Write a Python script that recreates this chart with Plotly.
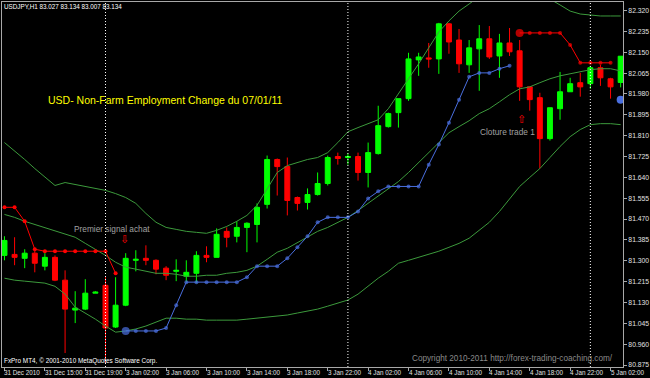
import plotly.graph_objects as go

# ---------------- data ----------------
bar_index = list(range(-10, 52))  # H1 bars; 0 = 3 Jan 00:00

open_ = [81.322, 81.326, 81.310, 81.331, 81.278, 81.314, 81.221, 81.099, 81.103, 81.168,
         81.200, 81.030, 81.119, 81.302, 81.310, 81.302, 81.270, 81.257, 81.237, 81.249,
         81.322, 81.314, 81.420, 81.400, 81.436, 81.448, 81.530, 81.713, 81.684, 81.558,
         81.538, 81.570, 81.615, 81.725, 81.721, 81.725, 81.660, 81.737, 81.847, 81.904,
         81.961, 82.119, 82.127, 82.123, 82.266, 82.200, 82.099, 82.164, 82.205, 82.135,
         82.188, 82.156, 82.009, 81.965, 81.798, 81.920, 81.989, 82.026, 82.022, 82.087,
         82.042, 82.027]
high_ = [81.400, 81.396, 81.347, 81.343, 81.331, 81.322, 81.261, 81.176, 81.225, 81.176,
         81.233, 81.233, 81.331, 81.343, 81.363, 81.306, 81.278, 81.306, 81.302, 81.339,
         81.359, 81.432, 81.436, 81.461, 81.457, 81.534, 81.729, 81.717, 81.721, 81.562,
         81.595, 81.660, 81.729, 81.741, 81.737, 81.741, 81.782, 81.932, 81.904, 81.961,
         82.148, 82.148, 82.188, 82.270, 82.270, 82.245, 82.200, 82.261, 82.257, 82.225,
         82.249, 82.200, 82.009, 81.985, 81.924, 82.070, 82.046, 82.066, 82.095, 82.099,
         82.046, 82.134]
low_ = [81.302, 81.282, 81.270, 81.253, 81.261, 81.217, 80.924, 81.046, 81.099, 81.168,
        80.880, 81.026, 81.115, 81.257, 81.282, 81.245, 81.221, 81.217, 81.213, 81.209,
        81.294, 81.314, 81.355, 81.375, 81.335, 81.375, 81.513, 81.566, 81.485, 81.505,
        81.509, 81.566, 81.607, 81.692, 81.692, 81.627, 81.599, 81.733, 81.843, 81.843,
        81.952, 82.054, 82.087, 82.062, 82.144, 82.066, 82.066, 81.993, 82.123, 82.046,
        82.135, 81.952, 81.912, 81.676, 81.790, 81.875, 81.989, 81.969, 82.001, 82.013,
        81.961, 82.007]
close_ = [81.383, 81.314, 81.331, 81.290, 81.314, 81.221, 81.103, 81.107, 81.168, 81.172,
          81.026, 81.119, 81.310, 81.306, 81.302, 81.266, 81.241, 81.261, 81.253, 81.322,
          81.314, 81.408, 81.396, 81.436, 81.453, 81.518, 81.713, 81.684, 81.546, 81.534,
          81.570, 81.615, 81.721, 81.717, 81.725, 81.660, 81.741, 81.851, 81.900, 81.961,
          82.123, 82.131, 82.123, 82.266, 82.192, 82.103, 82.168, 82.205, 82.131, 82.188,
          82.152, 82.009, 81.957, 81.798, 81.924, 81.989, 82.022, 82.009, 82.087, 82.046,
          82.009, 82.134]

band_upper = [81.782, 81.749, 81.713, 81.676, 81.640, 81.607, 81.619, 81.611, 81.603, 81.595,
              81.587, 81.574, 81.558, 81.534, 81.493, 81.457, 81.436, 81.428, 81.420, 81.416,
              81.412, 81.424, 81.440, 81.461, 81.485, 81.526, 81.595, 81.660, 81.688, 81.700,
              81.713, 81.721, 81.741, 81.782, 81.826, 81.843, 81.859, 81.875, 81.920, 81.981,
              82.038, 82.103, 82.168, 82.233, 82.278, 82.318, 82.347, 82.379, 82.408, 82.420,
              82.420, 82.416, 82.400, 82.383, 82.367, 82.343, 82.318, 82.306, 82.302, 82.298,
              82.298, 82.298]
band_middle = [81.489, 81.477, 81.461, 81.448, 81.436, 81.424, 81.412, 81.396, 81.371, 81.347,
               81.322, 81.294, 81.274, 81.266, 81.257, 81.249, 81.249, 81.245, 81.237, 81.237,
               81.241, 81.241, 81.249, 81.253, 81.261, 81.278, 81.306, 81.335, 81.351, 81.375,
               81.396, 81.420, 81.436, 81.457, 81.477, 81.505, 81.534, 81.562, 81.591, 81.623,
               81.660, 81.700, 81.741, 81.782, 81.822, 81.847, 81.871, 81.900, 81.920, 81.948,
               81.977, 82.001, 82.009, 82.026, 82.042, 82.054, 82.062, 82.070, 82.079, 82.083,
               82.083, 82.074]
band_lower = [81.229, 81.221, 81.217, 81.213, 81.209, 81.196, 81.164, 81.111, 81.087, 81.062,
              81.034, 81.009, 81.014, 81.022, 81.034, 81.050, 81.066, 81.066, 81.062, 81.062,
              81.058, 81.058, 81.058, 81.058, 81.062, 81.066, 81.070, 81.075, 81.079, 81.087,
              81.095, 81.103, 81.115, 81.127, 81.140, 81.164, 81.196, 81.229, 81.257, 81.290,
              81.302, 81.314, 81.326, 81.339, 81.355, 81.371, 81.392, 81.424, 81.457, 81.501,
              81.550, 81.603, 81.640, 81.676, 81.721, 81.766, 81.806, 81.835, 81.855, 81.859,
              81.859, 81.855]

red_left_x = list(range(-10, 2))
red_left_y = [81.518, 81.518, 81.461, 81.347, 81.339, 81.339, 81.339, 81.339, 81.339, 81.339,
              81.339, 81.249]
red_right_x = list(range(41, 51))
red_right_y = [82.229, 82.229, 82.229, 82.229, 82.229, 82.180, 82.107, 82.107, 82.107, 82.107]

blue_x = list(range(2, 41))
blue_y = [81.014, 81.014, 81.014, 81.014, 81.026, 81.119, 81.213, 81.213, 81.213, 81.213,
          81.213, 81.213, 81.233, 81.278, 81.278, 81.278, 81.310, 81.355, 81.400, 81.457,
          81.477, 81.477, 81.477, 81.501, 81.554, 81.583, 81.603, 81.603, 81.603, 81.603,
          81.692, 81.774, 81.863, 81.957, 82.050, 82.066, 82.066, 82.083, 82.095]
blue2_x = [51]
blue2_y = [81.957]

day_separators = [0, 24, 48]

x_label_pos = [-10, -6, -2, 2, 6, 10, 14, 18, 22, 26, 30, 34, 38, 42, 46, 50]
x_label_text = ["31 Dec 2010", "31 Dec 15:00", "31 Dec 19:00", "3 Jan 02:00", "3 Jan 06:00",
                "3 Jan 10:00", "3 Jan 14:00", "3 Jan 18:00", "3 Jan 22:00", "4 Jan 02:00",
                "4 Jan 06:00", "4 Jan 10:00", "4 Jan 14:00", "4 Jan 18:00", "4 Jan 22:00",
                "5 Jan 02:00"]
y_ticks = [80.875, 80.960, 81.045, 81.130, 81.215, 81.300, 81.385, 81.470, 81.555, 81.640,
           81.725, 81.810, 81.895, 81.980, 82.065, 82.150, 82.235, 82.320]
y_tick_text = ["80.875", "80.960", "81.045", "81.130", "81.215", "81.300", "81.385", "81.470",
               "81.555", "81.640", "81.725", "81.810", "81.895", "81.980", "82.065", "82.150",
               "82.235", "82.320"]

# ---------------- figure ----------------
BAND = "#3c9a3c"
AXIS = "#a8a8a8"
BLUE = "#4a6fe0"
FONT = "Liberation Sans"

fig = go.Figure()
for band in (band_upper, band_middle, band_lower):
    fig.add_trace(go.Scatter(x=bar_index, y=band, mode="lines",
                             line=dict(color=BAND, width=1), hoverinfo="skip"))

fig.add_trace(go.Candlestick(
    x=bar_index, open=open_, high=high_, low=low_, close=close_,
    increasing=dict(line=dict(color="#00ff00", width=1), fillcolor="#00ff00"),
    decreasing=dict(line=dict(color="#ff0000", width=1), fillcolor="#ff0000"),
    whiskerwidth=0, hoverinfo="skip"))

fig.add_trace(go.Scatter(x=red_left_x, y=red_left_y, mode="lines+markers",
                         line=dict(color="#ff0000", width=1),
                         marker=dict(color="#ff0000", size=4, line=dict(width=0)),
                         hoverinfo="skip"))
fig.add_trace(go.Scatter(x=red_right_x, y=red_right_y, mode="lines+markers",
                         line=dict(color="#ff0000", width=1),
                         marker=dict(color="#ff0000", size=[8] + [4] * (len(red_right_x) - 1),
                                     line=dict(width=0)),
                         hoverinfo="skip"))
fig.add_trace(go.Scatter(x=blue_x, y=blue_y, mode="lines+markers",
                         line=dict(color=BLUE, width=1),
                         marker=dict(color=BLUE, size=[8] + [4] * (len(blue_x) - 1),
                                     line=dict(width=0)),
                         hoverinfo="skip"))
fig.add_trace(go.Scatter(x=blue2_x, y=blue2_y, mode="markers",
                         marker=dict(color=BLUE, size=8, line=dict(width=0)),
                         hoverinfo="skip"))

for sep in day_separators:
    fig.add_shape(type="line", xref="x", yref="paper", x0=sep, x1=sep, y0=0, y1=1,
                  line=dict(color="#ffffff", width=1, dash="1px,2px"), layer="above")

annotations = []
for pos, txt in zip(x_label_pos, x_label_text):
    annotations.append(dict(x=pos, xref="x", y=0, yref="paper", yanchor="top", xanchor="left",
                            text=txt, showarrow=False, yshift=0, xshift=-2,
                            font=dict(family=FONT, size=6.3, color="#e0e0e0")))


def pap(px, py):
    return (px - 1) / 624.0, (367 - py) / 366.0


def add_text(px, py, txt, size, color, xanchor="center", family=FONT):
    ax, ay = pap(px, py)
    annotations.append(dict(x=ax, y=ay, xref="paper", yref="paper", text=txt, showarrow=False,
                            xanchor=xanchor, yanchor="middle",
                            font=dict(family=family, size=size, color=color)))


add_text(165, 99, "USD- Non-Farm Employment Change du 07/01/11", 10.5, "#ffff00")
add_text(112, 229, "Premier signal achat", 8.3, "#a0a0a0")
add_text(124, 239, "\u21e9", 11, "#ff0000", family="DejaVu Sans")
add_text(509, 131, "Cloture trade 1", 8.3, "#a0a0a0")
add_text(523, 119, "\u21e7", 11, "#ff0000", family="DejaVu Sans")
add_text(514, 358, "Copyright 2010-2011 http://forex-trading-coaching.com/", 8.2, "#8a8a8a")
add_text(1, 361, "FxPro MT4, \u00a9 2001-2010 MetaQuotes Software Corp.", 6.4, "#ffffff", xanchor="left")
add_text(1, 6, "USDJPY,H1 83.027 83.134 83.007 83.134", 6.3, "#ffffff", xanchor="left")

fig.update_layout(
    width=650, height=378,
    margin=dict(l=1, r=25, t=1, b=11),
    paper_bgcolor="#000000", plot_bgcolor="#000000",
    showlegend=False,
    boxgap=0.3,
    annotations=annotations,
    xaxis=dict(range=[-10.246, 51.232], showgrid=False, zeroline=False,
               showline=True, mirror=True, linecolor=AXIS, linewidth=1,
               ticks="outside", tickvals=x_label_pos, ticklen=3, tickcolor=AXIS,
               showticklabels=False, rangeslider=dict(visible=False), fixedrange=True),
    yaxis=dict(range=[80.867, 82.355], side="right", showgrid=False, zeroline=False,
               showline=True, mirror=True, linecolor=AXIS, linewidth=1,
               ticks="outside", ticklen=3, tickcolor=AXIS,
               tickvals=y_ticks, ticktext=y_tick_text,
               tickfont=dict(family=FONT, size=6.8, color="#e0e0e0"), fixedrange=True),
)

fig.write_html("out.html", config={"displayModeBar": False})

# remove the default page margin so the 650x378 figure fills the window exactly
with open("out.html", "r", encoding="utf-8") as fh:
    html = fh.read()
html = html.replace("<head>", "<head><style>html,body{margin:0;padding:0;background:#000;overflow:hidden}</style>", 1)
with open("out.html", "w", encoding="utf-8") as fh:
    fh.write(html)
